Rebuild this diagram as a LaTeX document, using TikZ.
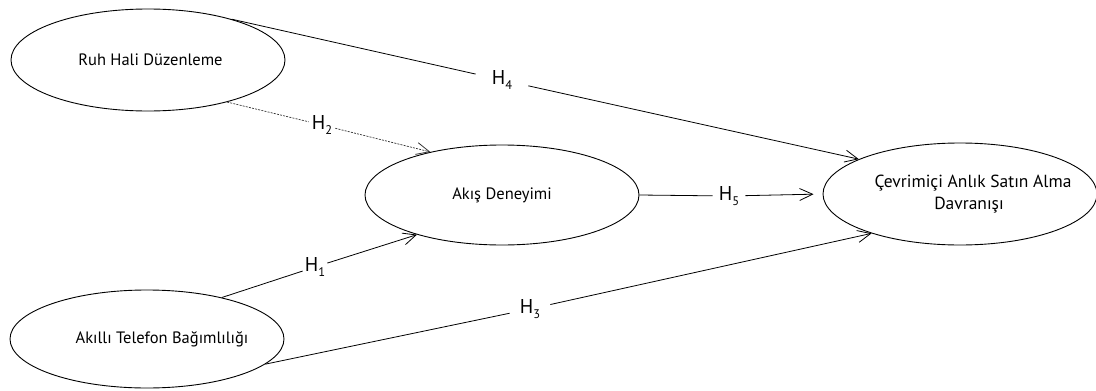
\documentclass[tikz,border=0pt]{standalone}
\usepackage{fontspec}
\setmainfont{PT Sans}
\usetikzlibrary{arrows.meta,shapes.geometric}
\newcommand\hyptext[1]{H\raisebox{-0.45ex}{\fontsize{12.5}{12.5}\selectfont #1}}
\newcommand\offtext[2]{\makebox[0pt][c]{\hspace{#1}#2}}
\begin{document}
\begin{tikzpicture}[x=1pt,y=-1pt,
  construct/.style={ellipse,draw,line width=0.9pt,minimum width=274pt,minimum height=102pt,inner sep=0pt,align=center,font=\fontsize{16.5}{21}\selectfont},
  hyp/.style={font=\fontsize{20}{20}\selectfont,inner ysep=3pt},
  link/.style={line width=0.8pt},
  arr/.style={link,-{Straight Barb[length=13pt,width=12pt]}},
  dlink/.style={line width=0.7pt,dash pattern=on 2pt off 1.2pt,draw=black!80},
  darr/.style={dlink,-{Straight Barb[length=13pt,width=12pt,line width=0.8pt]}}]
\useasboundingbox (0,0) rectangle (1096,391);
\node[construct] (ruh) at (148,60) {\offtext{5pt}{Ruh Hali Düzenleme}};
\node[construct,minimum height=98pt] (akil) at (147,339) {\offtext{30pt}{Akıllı Telefon Bağımlılığı}};
\node[construct,minimum height=100pt] (akis) at (502,195) {Akış Deneyimi};
\node[construct,font=\fontsize{17.5}{21}\selectfont] (cev) at (960,194) {\offtext{26pt}{Çevrimiçi Anlık Satın Alma}\\[1pt]\offtext{18pt}{Davranışı}};
% hypothesis labels
\node[hyp,inner xsep=16pt] (h4) at (502,80) {\hyptext{4}};
\node[hyp,inner xsep=3pt] (h2) at (322,125) {\hyptext{2}};
\node[hyp,inner xsep=2pt] (h1) at (315,267) {\hyptext{1}};
\node[hyp,inner xsep=10pt] (h3) at (530,309) {\hyptext{3}};
\node[hyp,inner xsep=6pt] (h5) at (729,196) {\hyptext{5}};
% connectors
\draw[link] (ruh.26) -- (h4);
\draw[arr] (h4) -- (cev.161);
\draw[dlink] (ruh.-28) -- (h2);
\draw[darr] (h2) -- (akis.149);
\draw[link] (akil.29) -- (h1);
\draw[arr] (h1) -- (akis.205);
\draw[link] (akil.-12) -- (h3);
\draw[arr] (h3) -- (cev.204);
\draw[link] (akis.east) -- (h5);
\draw[arr,shorten >=9pt] (h5) -- (cev.west);
\end{tikzpicture}
\end{document}
